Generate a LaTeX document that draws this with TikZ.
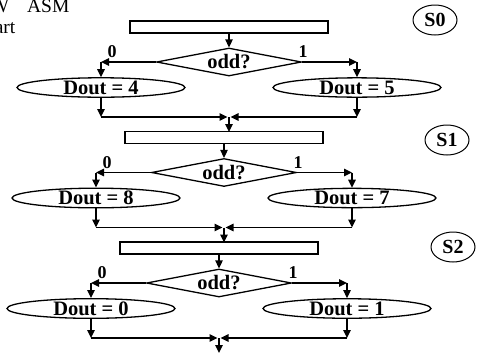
\documentclass[tikz,border=0pt]{standalone}
\usepackage{fontspec}
\setmainfont{Liberation Serif}
\usetikzlibrary{shapes.geometric, calc, positioning}
\usetikzlibrary{arrows.meta}
\tikzset{>={Triangle[length=8pt,width=7.5pt]}}
\tikzset{
  statebox/.style={draw, minimum width=198pt, minimum height=12pt, inner sep=0pt},
  test/.style={draw, diamond, aspect=5.2, minimum width=145pt, minimum height=28pt, inner sep=0pt,
    font=\fontsize{20.5}{21}\selectfont\bfseries},
  outbox/.style={draw, ellipse, minimum width=168pt, minimum height=19pt, inner sep=0pt,
    font=\fontsize{20.5}{21}\selectfont\bfseries},
  branch/.style={inner sep=0pt, font=\fontsize{18}{19}\selectfont\bfseries},
  tag/.style={draw, ellipse, line width=1pt, minimum width=44pt, minimum height=30pt, inner sep=0pt,
    font=\fontsize{20}{21}\selectfont\bfseries},
  heading/.style={anchor=base east, inner sep=0pt, font=\fontsize{19.5}{21}\selectfont},
}

\begin{document}
\begin{tikzpicture}[x=1pt, y=-1pt, line width=1.3pt]
  \useasboundingbox (0,0) rectangle (479,354);
  \clip (0,0) rectangle (479,354);
  \node[heading] (title1) at (70,12) {NEW\hspace{18pt}ASM};
  \node[heading] (title2) at (16,33) {Chart};
  \foreach \i/\lo/\hi/\sx/\sy in {0/4/5/435/20, 1/8/7/447/140, 2/0/1/453/247}{
    \pgfmathsetmacro{\cx}{229-5*\i}
    \pgfmathsetmacro{\ty}{21+110.5*\i}
    % state box, test and the two outputs
    \node[statebox] (r\i) at (\cx,\ty+6) {};
    \node[test] (d\i) at (\cx,\ty+41) {odd?};
    \node[outbox] (zero\i) at (\cx-128,\ty+66.5) {Dout = \lo};
    \node[outbox] (one\i) at (\cx+128,\ty+66.5) {Dout = \hi};
    \node[branch] (lz\i) at (\cx-117,\ty+31) {0};
    \node[branch] (lo\i) at (\cx+74,\ty+31) {1};
    \node[tag] (s\i) at (\sx,\sy) {S\i};
    \coordinate (lc\i) at (\cx-128,\ty+41);
    \coordinate (rc\i) at (\cx+128,\ty+41);
    \coordinate (lb\i) at (\cx-128,\ty+96);
    \coordinate (rb\i) at (\cx+128,\ty+96);
    \coordinate (m\i) at (\cx,\ty+96);
    \coordinate (n\i) at (\cx,\ty+111);
    % connectors
    \draw[->] (r\i) -- (d\i);
    \draw[->] (d\i.west) -- (lc\i);
    \draw[->] (lc\i) -- (zero\i);
    \draw[->] (d\i.east) -- (rc\i);
    \draw[->] (rc\i) -- (one\i);
    \draw[->] (zero\i) -- (lb\i);
    \draw[->] (lb\i) -- ($(m\i)+(-1.5,0)$);
    \draw[->] (one\i) -- (rb\i);
    \draw[->] (rb\i) -- ($(m\i)+(1.5,0)$);
    \draw[->] (m\i) -- (n\i);
  }
\end{tikzpicture}
\end{document}
